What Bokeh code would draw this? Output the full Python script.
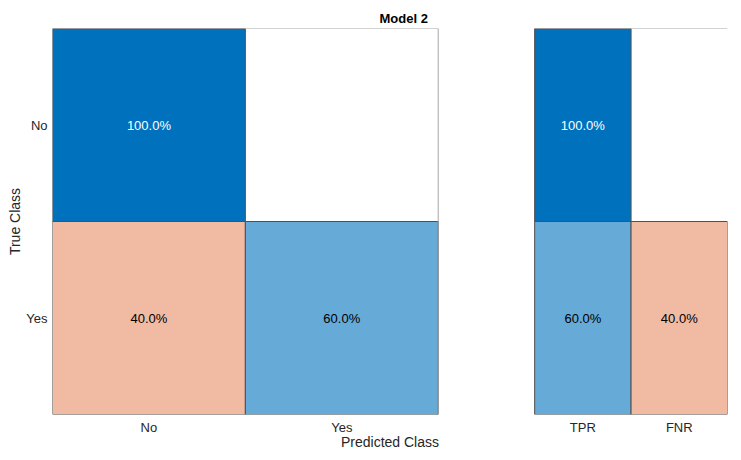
from bokeh.plotting import figure
from bokeh.models import ColumnDataSource, FixedTicker
from bokeh.core.properties import value
from bokeh.embed import file_html
from bokeh.resources import INLINE

# ---- data ----
true_classes = ["No", "Yes"]
pred_classes = ["No", "Yes"]
# row-normalized percentages (rows = true class, cols = predicted class)
pct_no = [100.0, 0.0]
pct_yes = [40.0, 60.0]
summary_labels = ["TPR", "FNR"]
tpr = [100.0, 60.0]
fnr = [0.0, 40.0]
title_text = "Model 2"

# ---- styling helpers ----
BLUE = (0, 114, 189)
ORANGE = (217, 83, 25)
FONT = "Liberation Sans"


def blend(base, frac):
    r, g, b = (int(round(255 + (c - 255) * frac)) for c in base)
    return "#%02x%02x%02x" % (r, g, b)


def text_col(frac, diag):
    return "white" if (diag and frac > 0.8) else "black"


rows = [pct_no, pct_yes]
xs, ys, ws, fills, labels, tcols = [], [], [], [], [], []
for i, t in enumerate(true_classes):
    for j, pc in enumerate(pred_classes):
        v = rows[i][j]
        if v <= 0:
            continue
        diag = i == j
        frac = v / 100.0
        xs.append(j + 0.5)
        ys.append(len(true_classes) - 1 - i + 0.5)
        ws.append(1.0)
        fills.append(blend(BLUE if diag else ORANGE, frac))
        labels.append("%.1f%%" % v)
        tcols.append(text_col(frac, diag))

for i, t in enumerate(true_classes):
    for k, vals in enumerate([tpr, fnr]):
        v = vals[i]
        if v <= 0:
            continue
        frac = v / 100.0
        xs.append(2.75 + 0.5 * k)
        ys.append(len(true_classes) - 1 - i + 0.5)
        ws.append(0.5)
        fills.append(blend(BLUE if k == 0 else ORANGE, frac))
        labels.append("%.1f%%" % v)
        tcols.append(text_col(frac, k == 0))

src = ColumnDataSource(dict(x=xs, y=ys, w=ws, fill=fills, label=labels, tc=tcols))

p = figure(width=733, height=456, x_range=(0, 3.5), y_range=(0, 2),
           output_backend="svg", toolbar_location=None,
           min_border_left=52, min_border_right=6, min_border_top=28, min_border_bottom=42)
p.outline_line_color = None
p.xgrid.visible = False
p.ygrid.visible = False
p.background_fill_color = "white"

p.rect(x="x", y="y", width="w", height=1.0, fill_color="fill", line_color="#505050",
       line_width=1, source=src)
p.text(x="x", y="y", text="label", text_color="tc", text_align="center",
       text_baseline="middle", text_font=value(FONT), text_font_size="13px", source=src)

# frame lines
p.line(x=[0, 2, 2], y=[2, 2, 0], line_color="#a6a6a6", line_width=1)
p.line(x=[2.5, 3.5], y=[2, 2], line_color="#a6a6a6", line_width=1)

# axes
p.xaxis.ticker = FixedTicker(ticks=[0.5, 1.5, 2.75, 3.25])
p.xaxis.major_label_overrides = {0.5: pred_classes[0], 1.5: pred_classes[1],
                                 2.75: summary_labels[0], 3.25: summary_labels[1]}
p.yaxis.ticker = FixedTicker(ticks=[1.5, 0.5])
p.yaxis.major_label_overrides = {1.5: true_classes[0], 0.5: true_classes[1]}
for ax in (p.xaxis[0], p.yaxis[0]):
    ax.axis_line_color = None
    ax.major_tick_line_color = None
    ax.minor_tick_line_color = None
    ax.major_tick_out = 0
    ax.minor_tick_out = 0
    ax.major_label_text_font = FONT
    ax.major_label_text_font_size = "13px"
    ax.major_label_text_color = "#262626"
    ax.axis_label_text_font = FONT
    ax.axis_label_text_font_size = "14px"
    ax.axis_label_text_font_style = "normal"
    ax.axis_label_text_color = "#262626"
p.xaxis.axis_label = "Predicted Class"
p.yaxis.axis_label = "True Class"
p.xaxis.major_label_standoff = 5
p.xaxis.axis_label_standoff = -4
p.yaxis.major_label_standoff = 5
p.yaxis.axis_label_standoff = 0
p.yaxis.major_label_orientation = "horizontal"

p.title.text = title_text
p.title.align = "left"
p.title.offset = 327
p.title.text_font = FONT
p.title.text_font_size = "13px"
p.title.text_font_style = "bold"
p.title.text_color = "black"
p.title.standoff = 5

open("out.html", "w").write(file_html(p, INLINE))
